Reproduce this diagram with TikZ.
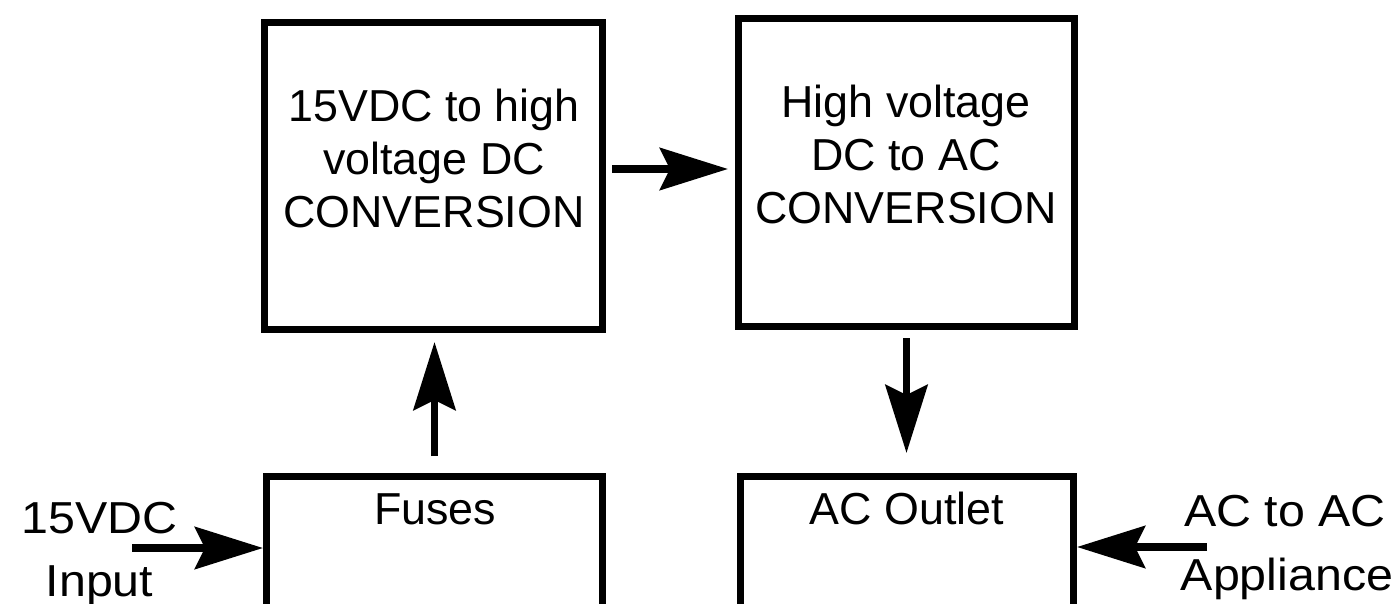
\documentclass[tikz,border=0pt]{standalone}
\usepackage{fontspec}
\setmainfont{Liberation Sans}
\usepackage{graphicx}
\usetikzlibrary{arrows.meta,positioning}
\tikzset{block/.style={draw,line width=3.5pt,inner sep=0pt},
  txt/.style={anchor=base,inner sep=0pt},
  flow/.style={-{Stealth[length=34pt,width=21pt,inset=5pt]},line width=3.75pt}}
\newcommand\wide[1]{\scalebox{1.08}[1]{#1}}

\begin{document}
\begin{tikzpicture}[x=0.5pt,y=-0.5pt,font=\fontsize{22.4}{26.5}\selectfont]
\useasboundingbox (0,0) rectangle (1397,604);
\node[block,minimum width=169pt,minimum height=153.5pt] (conv1) at (433.5,176) {};
\node[block,minimum width=168pt,minimum height=154pt] (conv2) at (906.5,172.5) {};
\node[block,minimum width=168pt,minimum height=66.5pt] (fuses) at (434.5,543) {};
\node[block,minimum width=166.5pt,minimum height=66.5pt] (outlet) at (907,543) {};
\foreach \t [count=\i] in {15VDC to high,voltage DC,CONVERSION}
  \node[txt] (conv1l\i) at (434,{122+53*(\i-1)}) {\t};
\foreach \t [count=\i] in {High voltage,DC to AC,CONVERSION}
  \node[txt] (conv2l\i) at (906,{118+53*(\i-1)}) {\t};
\node[txt] (fusest) at (435,524) {Fuses};
\node[txt] (outlett) at (907,524) {AC Outlet};
\node[txt] (inp1) at (99.5,533) {\wide{15VDC}};
\node[txt] (inp2) at (99.5,596) {\wide{Input}};
\node[txt] (appl1) at (1285,526) {\wide{AC to AC}};
\node[txt] (appl2) at (1287,590) {\wide{Appliance}};
\coordinate (inpend) at (132,548);
\coordinate (applend) at (1207,547);
\draw[flow] (inpend) -- (inpend -| fuses.west);
\draw[flow] (applend) -- (applend -| outlet.east);
\draw[flow,shorten <=3pt,shorten >=3.5pt] (conv1.east |- 0,169) -- (conv2.west |- 0,169);
\draw[flow,shorten <=8.5pt,shorten >=4.5pt] (fuses.north) -- (fuses.north |- conv1.south);
\draw[flow,shorten <=4pt,shorten >=10pt] (conv2.south) -- (conv2.south |- outlet.north);
\end{tikzpicture}
\end{document}
